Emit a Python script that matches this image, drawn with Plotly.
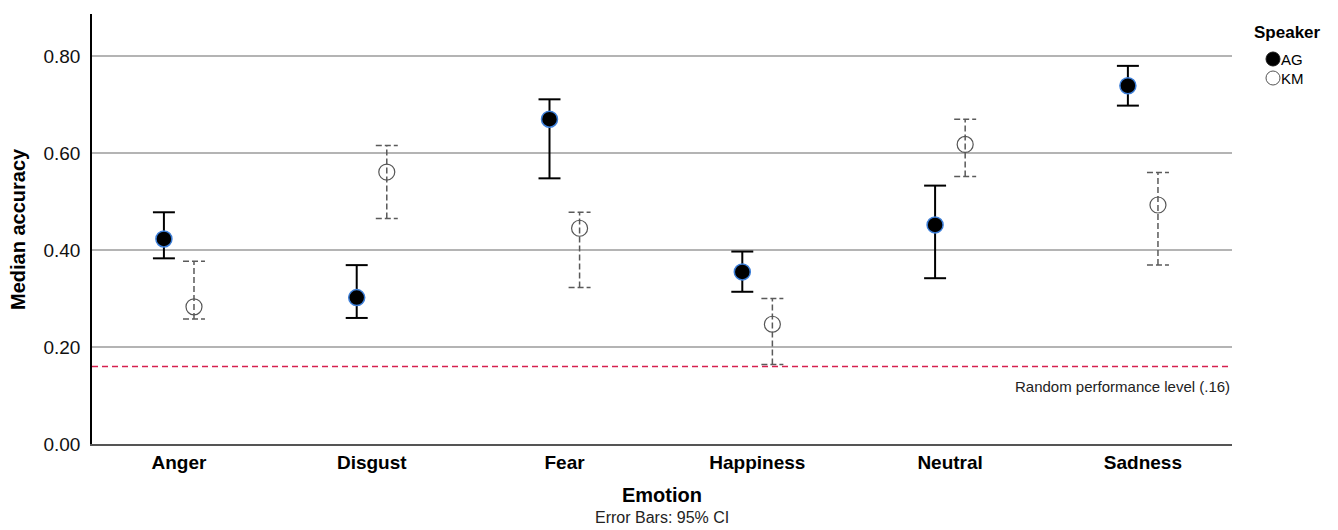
import plotly.graph_objects as go

# Median recognition accuracy per emotion, split by speaker, with 95% CIs
emotions = ["Anger", "Disgust", "Fear", "Happiness", "Neutral", "Sadness"]
ag_median = [0.423, 0.302, 0.670, 0.355, 0.452, 0.739]
ag_ci_low = [0.383, 0.260, 0.548, 0.314, 0.342, 0.698]
ag_ci_high = [0.478, 0.369, 0.711, 0.397, 0.533, 0.780]
km_median = [0.283, 0.561, 0.445, 0.247, 0.618, 0.493]
km_ci_low = [0.258, 0.465, 0.323, 0.164, 0.552, 0.369]
km_ci_high = [0.377, 0.616, 0.478, 0.300, 0.670, 0.560]
chance_level = 0.16
y_tick_values = [0.0, 0.2, 0.4, 0.6, 0.8]
y_tick_labels = ["0.00", "0.20", "0.40", "0.60", "0.80"]

FONT = "Liberation Sans, Arial, sans-serif"
DODGE = 0.078      # horizontal offset of each speaker from the category centre
CAP = 0.057        # half-width of the error-bar caps (x units)


def whiskers(xs, lo, hi):
    """Vertical CI line plus top and bottom caps, as one None-separated path."""
    px, py = [], []
    for x, l, h in zip(xs, lo, hi):
        px += [x, x, None, x - CAP, x + CAP, None, x - CAP, x + CAP, None]
        py += [l, h, None, h, h, None, l, l, None]
    return px, py


idx = list(range(len(emotions)))
x_ag = [i - DODGE for i in idx]
x_km = [i + DODGE for i in idx]

fig = go.Figure()

wx, wy = whiskers(x_km, km_ci_low, km_ci_high)
fig.add_trace(go.Scatter(x=wx, y=wy, mode="lines", hoverinfo="skip",
                         line=dict(color="#5a5a5a", width=1.5, dash="6px,3px"),
                         showlegend=False))
wx, wy = whiskers(x_ag, ag_ci_low, ag_ci_high)
fig.add_trace(go.Scatter(x=wx, y=wy, mode="lines", hoverinfo="skip",
                         line=dict(color="black", width=2),
                         showlegend=False))

fig.add_trace(go.Scatter(x=x_km, y=km_median, mode="markers", name="KM",
                         marker=dict(size=16, color="rgba(255,255,255,0)",
                                     line=dict(color="#555555", width=1.2)),
                         showlegend=False))
fig.add_trace(go.Scatter(x=x_ag, y=ag_median, mode="markers", name="AG",
                         marker=dict(size=16, color="black",
                                     line=dict(color="#3d7fd9", width=1.5)),
                         showlegend=False))

# chance-level reference line
fig.add_shape(type="line", xref="paper", x0=0, x1=1, yref="y",
              y0=chance_level, y1=chance_level,
              line=dict(color="#d6204f", width=1.5, dash="6px,4px"))
fig.add_annotation(xref="paper", x=1, yref="y", y=chance_level,
                   xanchor="right", yanchor="top", yshift=-10,
                   text="Random performance level (.16)", showarrow=False,
                   font=dict(family=FONT, size=15, color="#222222"))

# axis titles and caption
fig.add_annotation(xref="paper", x=0.5, yref="paper", y=0, yanchor="middle",
                   yshift=-51, text="<b>Emotion</b>", showarrow=False,
                   font=dict(family=FONT, size=20, color="black"))
fig.add_annotation(xref="paper", x=0.5, yref="paper", y=0, yanchor="middle",
                   yshift=-73, text="Error Bars: 95% CI", showarrow=False,
                   font=dict(family=FONT, size=16, color="#222222"))
fig.add_annotation(xref="paper", x=0, xanchor="center", xshift=-74,
                   yref="paper", y=0.5, textangle=-90,
                   text="<b>Median accuracy</b>", showarrow=False,
                   font=dict(family=FONT, size=20, color="black"))

# speaker legend
fig.add_annotation(xref="paper", x=1.0, xanchor="left", xshift=20,
                   yref="paper", y=1, yanchor="middle", yshift=-18,
                   text="<b>Speaker</b>", showarrow=False,
                   font=dict(family=FONT, size=17, color="black"))
legend_rows = [("AG", "black", "#1a1a1a", -45), ("KM", "white", "#555555", -64)]
for label, fill, edge, dy in legend_rows:
    fig.add_shape(type="circle", xref="paper", yref="paper",
                  xsizemode="pixel", ysizemode="pixel",
                  xanchor=1.0, yanchor=1.0,
                  x0=34, x1=48, y0=dy - 7, y1=dy + 7,
                  fillcolor=fill, line=dict(color=edge, width=1))
    fig.add_annotation(xref="paper", x=1.0, xanchor="left", xshift=47,
                       yref="paper", y=1, yanchor="middle", yshift=dy,
                       text=label, showarrow=False,
                       font=dict(family=FONT, size=15, color="black"))

fig.update_layout(
    width=1338, height=530,
    margin=dict(l=92, r=106, t=14, b=86),
    plot_bgcolor="white", paper_bgcolor="white",
    font=dict(family=FONT, color="black"),
    xaxis=dict(range=[-0.451, 5.462], tickmode="array", tickvals=idx,
               ticktext=[f"<b>{e}</b>" for e in emotions],
               tickfont=dict(size=19, color="black"),
               showgrid=False, zeroline=False, showline=True,
               linecolor="#555555", linewidth=1.5, ticks="", fixedrange=True),
    yaxis=dict(range=[0, 0.887], tickmode="array", tickvals=y_tick_values,
               ticktext=y_tick_labels, tickfont=dict(size=19, color="#111111"),
               showgrid=True, gridcolor="#b4b4b4", gridwidth=1.5,
               zeroline=False, showline=True, linecolor="black", linewidth=1.5,
               ticks="", ticklabelstandoff=6, fixedrange=True),
    showlegend=False,
)

fig.write_html("out.html")
